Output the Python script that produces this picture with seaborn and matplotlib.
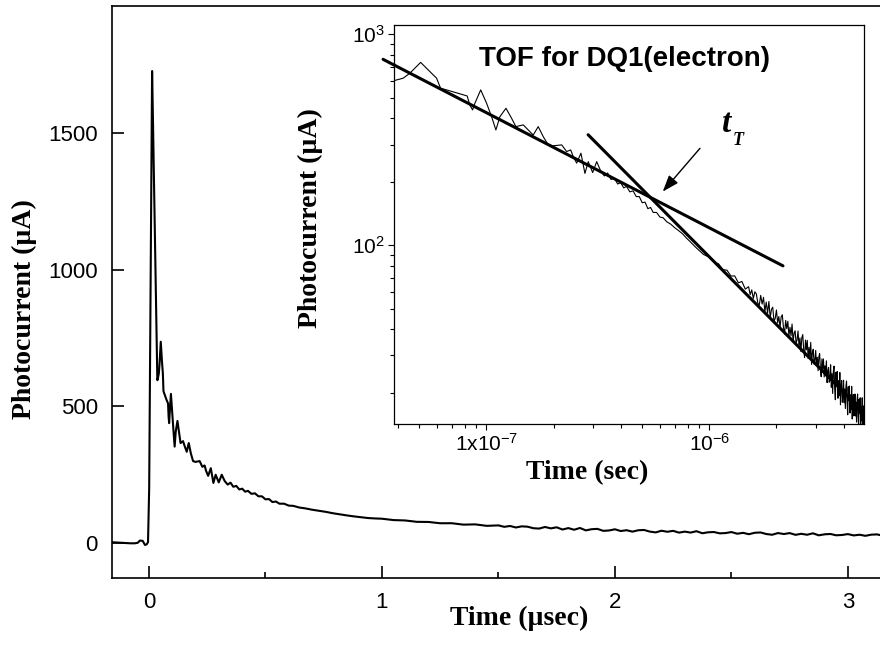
import numpy as np
import pandas as pd
import matplotlib
matplotlib.use("Agg")
import matplotlib.pyplot as plt
from matplotlib.ticker import FixedLocator, FixedFormatter, LogLocator, NullFormatter, MultipleLocator
import seaborn as sns

# photocurrent transient, time in usec, current in uA
# baseline before the laser pulse
pre_t = [-0.16, -0.14, -0.12, -0.10, -0.08, -0.06, -0.048, -0.039, -0.027, -0.017, -0.010, -0.004]
pre_i = [2, 1, 0, -1, -2, -2, 0, 8, 7, -8, -6, 2]

# rise, peak and the noisy first 0.3 usec
early_t = [0.001, 0.0135, 0.017, 0.036, 0.0385, 0.0423, 0.0453, 0.0507, 0.0558, 0.0598,
           0.0623, 0.0663, 0.0747, 0.0820, 0.0843, 0.0867, 0.0888, 0.0943, 0.1002, 0.1055,
           0.1103, 0.1150, 0.1224, 0.1297, 0.1356, 0.1463, 0.1540, 0.1622, 0.1708, 0.1799,
           0.1894, 0.1994, 0.2176, 0.2291, 0.2388, 0.2453, 0.2541, 0.2655, 0.2767, 0.2863,
           0.2997, 0.3124]
early_i = [200, 1727, 1560, 595, 603, 619, 653, 736, 665, 619,
           555, 545, 525, 510, 462, 438, 471, 545, 471, 407,
           352, 407, 446, 400, 365, 372, 352, 333, 365, 327,
           299, 296, 299, 278, 283, 263, 245, 273, 219, 249,
           221, 249]

# 0.3 - 1 usec
mid_t = [0.325, 0.338, 0.350, 0.362, 0.375, 0.388, 0.400, 0.413, 0.425, 0.440,
         0.455, 0.470, 0.485, 0.500, 0.515, 0.530, 0.545, 0.560, 0.580, 0.600,
         0.620, 0.645, 0.670, 0.700, 0.730, 0.760, 0.790, 0.820, 0.850, 0.880,
         0.910, 0.940, 0.970]
mid_i = [226, 213, 220, 205, 208, 195, 198, 187, 190, 179,
         181, 170, 170, 159, 160, 149, 151, 143, 143, 136,
         135, 129, 126, 121, 117, 113, 108, 104, 100, 96.5,
         93.5, 90.5, 89]

# 1 - 2 usec
late_t = [1.00, 1.05, 1.10, 1.15, 1.20, 1.25, 1.30, 1.35, 1.40, 1.45,
          1.500, 1.525, 1.550, 1.575, 1.600, 1.625, 1.650, 1.675, 1.700, 1.725,
          1.750, 1.775, 1.800, 1.825, 1.850, 1.875, 1.900, 1.925, 1.950, 1.975]
late_i = [88.0, 83.0, 81.6, 76.6, 76.1, 71.4, 71.5, 66.3, 67.3, 61.9,
          63.6, 58.3, 61.4, 55.9, 60.1, 58.8, 53.2, 51.9, 57.8, 52.6,
          56.6, 48.4, 53.7, 47.6, 54.1, 45.3, 49.6, 50.8, 43.6, 45.0]

# long noisy tail, 2 - 4.95 usec every 25 ns
tail_t = [2.000, 2.025, 2.050, 2.075, 2.100, 2.125, 2.150, 2.175, 2.200, 2.225,
          2.250, 2.275, 2.300, 2.325, 2.350, 2.375, 2.400, 2.425, 2.450, 2.475,
          2.500, 2.525, 2.550, 2.575, 2.600, 2.625, 2.650, 2.675, 2.700, 2.725,
          2.750, 2.775, 2.800, 2.825, 2.850, 2.875, 2.900, 2.925, 2.950, 2.975,
          3.000, 3.025, 3.050, 3.075, 3.100, 3.125, 3.150, 3.175, 3.200, 3.225,
          3.250, 3.275, 3.300, 3.325, 3.350, 3.375, 3.400, 3.425, 3.450, 3.475,
          3.500, 3.525, 3.550, 3.575, 3.600, 3.625, 3.650, 3.675, 3.700, 3.725,
          3.750, 3.775, 3.800, 3.825, 3.850, 3.875, 3.900, 3.925, 3.950, 3.975,
          4.000, 4.025, 4.050, 4.075, 4.100, 4.125, 4.150, 4.175, 4.200, 4.225,
          4.250, 4.275, 4.300, 4.325, 4.350, 4.375, 4.400, 4.425, 4.450, 4.475,
          4.500, 4.525, 4.550, 4.575, 4.600, 4.625, 4.650, 4.675, 4.700, 4.725,
          4.750, 4.775, 4.800, 4.825, 4.850, 4.875, 4.900, 4.925, 4.950]
tail_i = [49.3, 42.9, 45.9, 40.7, 45.7, 46.8, 40.8, 37.9, 44.0, 40.2,
          43.6, 37.1, 40.8, 37.2, 42.3, 34.8, 38.3, 39.3, 34.4, 35.5,
          39.2, 33.1, 36.3, 31.3, 36.5, 37.7, 31.9, 29.3, 35.5, 31.9,
          35.4, 29.0, 32.8, 29.3, 34.6, 27.2, 30.9, 32.1, 27.3, 28.5,
          31.7, 26.8, 29.4, 25.4, 29.6, 30.6, 25.9, 23.8, 28.9, 26.0,
          28.9, 23.7, 26.8, 24.0, 28.3, 22.3, 25.3, 26.3, 22.4, 23.4,
          27.1, 21.2, 24.6, 19.8, 25.2, 26.7, 21.0, 18.5, 25.0, 21.4,
          25.2, 18.8, 22.8, 19.4, 24.9, 17.5, 21.4, 22.8, 18.0, 19.4,
          22.9, 17.9, 20.8, 16.8, 21.4, 22.7, 17.9, 15.7, 21.3, 18.3,
          21.5, 16.0, 19.5, 16.6, 21.4, 15.0, 18.3, 19.6, 15.5, 16.7,
          19.7, 15.5, 18.0, 14.5, 18.5, 19.7, 15.5, 13.7, 18.6, 16.0,
          18.9, 14.1, 17.2, 14.7, 18.9, 13.3, 16.3, 17.3, 13.7]

# the two straight-line fits of the log-log plot (time in sec)
fit1_t = [3.44e-8, 2.14e-6]
fit1_i = [761, 79.8]
fit2_t = [2.86e-7, 4.9e-6]
fit2_i = [334, 16.2]

# arrow pointing at the transit time (sec, uA)
arrow_from = (9.08e-7, 288)
arrow_to = (6.18e-7, 179.5)

main_xticks = [0, 1, 2, 3]
main_yticks = [0, 500, 1000, 1500]
inset_xticks = [1e-7, 1e-6]
inset_xlabels = [r"$\mathregular{1x10^{-7}}$", r"$\mathregular{10^{-6}}$"]
inset_yticks = [1e2, 1e3]
inset_ylabels = [r"$\mathregular{10^{2}}$", r"$\mathregular{10^{3}}$"]

sns.set_theme(style="ticks", rc={"axes.edgecolor": "black", "xtick.color": "black",
                                 "ytick.color": "black", "text.color": "black",
                                 "axes.labelcolor": "black"})
plt.rcParams["font.family"] = ["Liberation Sans", "DejaVu Sans"]
serif = ["Liberation Serif", "DejaVu Serif"]

df = pd.DataFrame({"t": pre_t + early_t + mid_t + late_t + tail_t,
                   "i": pre_i + early_i + mid_i + late_i + tail_i})
df_log = df[df["t"] > 0].copy()
df_log["t"] = df_log["t"] * 1e-6

fig = plt.figure(figsize=(8.8, 6.46), dpi=100)

# main linear plot (right part of the original figure is cropped off)
ax = fig.add_axes([0.1269, 0.1057, 0.9253, 0.885])
sns.lineplot(data=df, x="t", y="i", ax=ax, color="black", linewidth=1.5,
             sort=False, estimator=None)
ax.set_xlim(-0.16, 3.335)
ax.set_ylim(-128, 1965)
ax.xaxis.set_major_locator(FixedLocator(main_xticks))
ax.xaxis.set_minor_locator(MultipleLocator(0.5))
ax.yaxis.set_major_locator(FixedLocator(main_yticks))
ax.tick_params(which="both", direction="in", width=1.2, labelsize=16, pad=10,
               top=False, right=False, bottom=True, left=True)
ax.tick_params(which="major", length=8.3)
ax.tick_params(axis="x", which="minor", length=4.3)
ax.tick_params(axis="y", which="minor", length=0)
for s in ax.spines.values():
    s.set_linewidth(1.2)
ax.spines["right"].set_visible(False)
ax.set_xlabel("Time (µsec)", family=serif, fontweight="bold", fontsize=20)
ax.set_ylabel("Photocurrent (µA)", family=serif, fontweight="bold", fontsize=20)
ax.xaxis.set_label_coords(0.5, -0.05)
ax.yaxis.set_label_coords(-0.092, 0.47)

# inset log-log plot
axin = fig.add_axes([0.4477, 0.3437, 0.5341, 0.6176])
axin.set_facecolor("white")
sns.lineplot(data=df_log, x="t", y="i", ax=axin, color="black", linewidth=0.8,
             sort=False, estimator=None)
sns.lineplot(x=fit1_t, y=fit1_i, ax=axin, color="black", linewidth=2.2)
axin.lines[-1].set_clip_on(False)
sns.lineplot(x=fit2_t, y=fit2_i, ax=axin, color="black", linewidth=2.2)
axin.set_xscale("log")
axin.set_yscale("log")
axin.set_xlim(3.85e-8, 4.94e-6)
axin.set_ylim(14.2, 1107)
axin.xaxis.set_major_locator(FixedLocator(inset_xticks))
axin.xaxis.set_major_formatter(FixedFormatter(inset_xlabels))
axin.yaxis.set_major_locator(FixedLocator(inset_yticks))
axin.yaxis.set_major_formatter(FixedFormatter(inset_ylabels))
axin.xaxis.set_minor_locator(LogLocator(base=10, subs=np.arange(2, 10)))
axin.yaxis.set_minor_locator(LogLocator(base=10, subs=np.arange(2, 10)))
axin.xaxis.set_minor_formatter(NullFormatter())
axin.yaxis.set_minor_formatter(NullFormatter())
axin.tick_params(which="both", direction="out", width=0.8, labelsize=15, pad=2,
                 top=False, right=False, bottom=True, left=True)
axin.tick_params(which="major", length=4.5)
axin.tick_params(which="minor", length=2.8)
for s in axin.spines.values():
    s.set_linewidth(0.9)
axin.set_xlabel("Time (sec)", family=serif, fontweight="bold", fontsize=20)
axin.set_ylabel("Photocurrent (µA)", family=serif, fontweight="bold", fontsize=20)
axin.xaxis.set_label_coords(0.411, -0.09)
axin.yaxis.set_label_coords(-0.152, 0.515)

axin.text(0.49, 0.896, "TOF for DQ1(electron)", transform=axin.transAxes,
          ha="center", va="baseline", fontsize=20, fontweight="bold")
axin.text(0.697, 0.7326, "t", transform=axin.transAxes, ha="left", va="baseline",
          family=serif, fontsize=24, fontweight="bold", fontstyle="italic")
axin.text(0.7206, 0.699, "T", transform=axin.transAxes, ha="left", va="baseline",
          family=serif, fontsize=13, fontweight="bold", fontstyle="italic")
axin.annotate("", xy=arrow_to, xytext=arrow_from,
              arrowprops=dict(arrowstyle="-|>,head_length=0.5,head_width=0.18",
                              color="black", lw=1.0, mutation_scale=20,
                              shrinkA=0, shrinkB=0))

fig.savefig("out.png", dpi=100)
